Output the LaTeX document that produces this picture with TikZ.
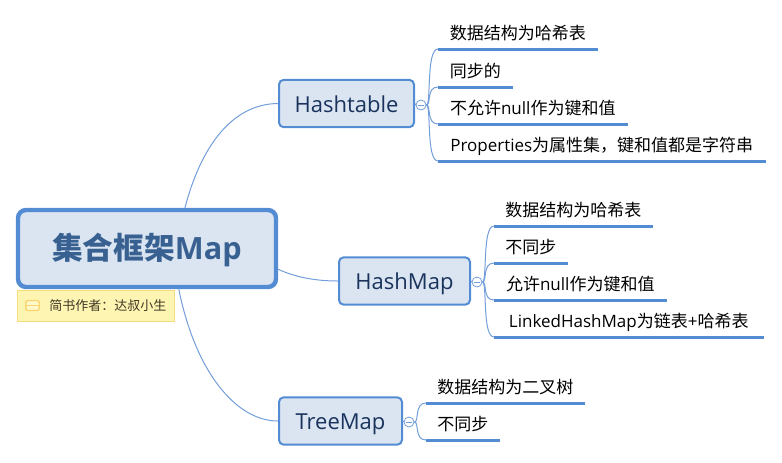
\documentclass[tikz,border=0pt]{standalone}
\usepackage{xcolor}
\usepackage{fontspec}
\setmainfont{Open Sans}
\newfontfamily\cjk{Noto Sans CJK SC}
\definecolor{mapblue}{rgb}{0.33,0.55,0.83}
\definecolor{mapline}{rgb}{0.45,0.62,0.85}
\definecolor{mapfill}{rgb}{0.86,0.90,0.95}
\definecolor{maptitle}{rgb}{0.22,0.38,0.57}
\definecolor{mapchild}{rgb}{0.10,0.20,0.36}
\definecolor{notefill}{rgb}{1,0.96,0.70}
\definecolor{noteline}{rgb}{0.97,0.86,0.50}
\definecolor{noteicon}{rgb}{0.98,0.83,0.43}
\definecolor{notetext}{rgb}{0.25,0.22,0.15}

\begin{document}
\begin{tikzpicture}[x=0.75pt,y=0.75pt,yscale=-1,xscale=1,
  rootbox/.style={draw=mapblue,fill=mapfill,line width=3.3pt,rounded corners=6pt,minimum width=193.5pt,minimum height=57.75pt,inner sep=0pt,text height=18pt,text depth=1.5pt,text=maptitle,font=\fontsize{23}{26}\selectfont\bfseries},
  childbox/.style={draw=mapblue,fill=mapfill,line width=1.5pt,rounded corners=3.5pt,minimum height=35.5pt,inner sep=0pt,text height=14pt,text depth=1pt,text=mapchild,font=\fontsize{16.5}{20}\selectfont},
  foldmark/.style={circle,draw=mapline,fill=white,line width=0.6pt,minimum size=7.5pt,inner sep=0pt,path picture={\draw[mapline,line width=0.6pt] ([xshift=-2pt]path picture bounding box.center) -- ([xshift=2pt]path picture bounding box.center);}},
  leaf/.style={anchor=south west,inner xsep=0pt,inner ysep=4pt,text height=10pt,text depth=3pt,text=black,font=\fontsize{12.75}{15}\selectfont},
  leafrule/.style={draw=mapblue,line width=2.25pt},
  branch/.style={draw=mapline,line width=0.75pt},
  ]
\useasboundingbox (0,0) rectangle (782,462);

% Root
\node (root) [rootbox] at (147,248.5) {{\cjk 集合框架}Map};
% Note
\node (note) [draw=noteline,fill=notefill,line width=0.75pt,anchor=north west,minimum width=118pt,minimum height=23.5pt,inner sep=0pt] at (16.5,289.5) {};
\node (noteglyph) [draw=noteicon,fill=notefill!70!white,line width=1pt,rounded corners=1.5pt,minimum width=10pt,minimum height=7.5pt,inner sep=0pt,path picture={\draw[noteicon,line width=1pt] (path picture bounding box.west) -- (path picture bounding box.east);}] at (32.5,305.5) {};
\node (notelabel) [anchor=west,inner sep=0pt,text=notetext,font=\fontsize{9.75}{12}\selectfont\cjk] at (49,305.5) {简书作者：达叔小生};

% Children
\node (hashtable) [childbox,minimum width=101.25pt] at (346.5,103.5) {Hashtable};
\node (hashmap) [childbox,minimum width=98.25pt] at (404.5,281) {HashMap};
\node (treemap) [childbox,minimum width=92.25pt] at (340.5,421) {TreeMap};

\node (foldh) [foldmark] at (421,105) {};
\node (foldm) [foldmark] at (477,282) {};
\node (foldt) [foldmark] at (409,422) {};

% Leaves of Hashtable
\node (ha) [leaf,minimum width=119.25pt] at (438,49) {\cjk 数据结构为哈希表};
\node (hb) [leaf,minimum width=55.5pt] at (438,87) {\cjk 同步的};
\node (hc) [leaf,minimum width=141.75pt] at (438,124) {{\cjk 不允许}null{\cjk 作为键和值}};
\node (hd) [leaf,minimum width=245.25pt] at (438,161) {Properties{\cjk 为属性集，键和值都是字符串}};
% Leaves of HashMap
\node (ma) [leaf,minimum width=118.5pt] at (494,226) {\cjk 数据结构为哈希表};
\node (mb) [leaf,minimum width=54.75pt] at (494,263) {\cjk 不同步};
\node (mc) [leaf,minimum width=129pt] at (494,300) {{\cjk 允许}null{\cjk 作为键和值}};
\node (md) [leaf,minimum width=201.75pt] at (494,337) {LinkedHashMap{\cjk 为链表}+{\cjk 哈希表}};
% Leaves of TreeMap
\node (ta) [leaf,minimum width=118.5pt] at (426,403) {\cjk 数据结构为二叉树};
\node (tb) [leaf,minimum width=54.75pt] at (426,440) {\cjk 不同步};

% Branches from the root
\draw [branch] (root.47.3) .. controls (200,150) and (230,104) .. (hashtable.west);
\draw [branch] (root.-9.4) .. controls (295,277) and (315,281) .. (hashmap.west);
\draw [branch] (root.-52.3) .. controls (195,370) and (235,421) .. (treemap.west);

\draw [branch] (hashtable.east) -- (foldh.west);
\draw [branch] (hashmap.east) -- (foldm.west);
\draw [branch] (treemap.east) -- (foldt.west);

% Branches to the leaves
\foreach \fold/\leafnames in {foldh/{ha,hb,hc,hd},foldm/{ma,mb,mc,md},foldt/{ta,tb}}{
  \foreach \leafname in \leafnames{
    \draw [branch] (\fold.east) .. controls +(5,0) and ([xshift=-9pt]\leafname.south west) .. (\leafname.south west);
    \draw [leafrule] (\leafname.south west) -- (\leafname.south east);
  }
}

\end{tikzpicture}
\end{document}
